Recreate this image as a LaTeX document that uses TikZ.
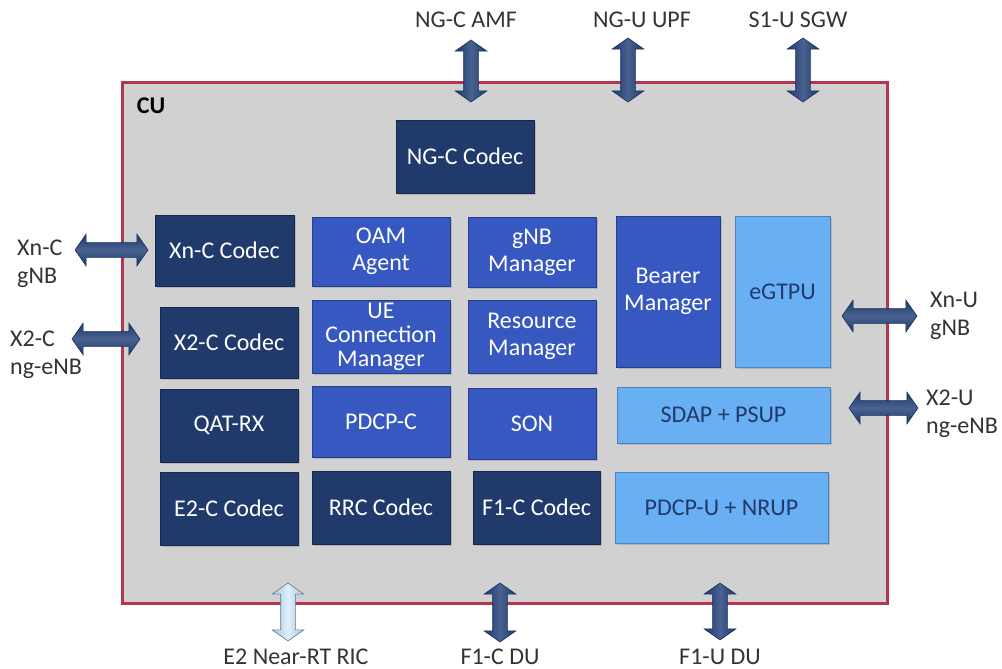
\documentclass[tikz,border=0pt]{standalone}
\usepackage{fontspec}
\setmainfont{Carlito}
\usetikzlibrary{shapes.arrows,shadows}

\definecolor{cuframe}{HTML}{B5344F}
\definecolor{cugray}{HTML}{D1D1D1}
\definecolor{navy}{HTML}{213A6C}
\definecolor{midblue}{HTML}{3658C0}
\definecolor{lightblue}{HTML}{69AFF4}
\definecolor{arrowblue}{HTML}{1C3A72}
\definecolor{e2blue}{HTML}{9CC8EC}

\tikzset{
  blk/.style={draw=#1!70!black, fill=#1, line width=1pt, inner sep=0pt, align=center,
    text=white, font=\fontsize{24}{27}\selectfont,
    drop shadow={shadow xshift=2pt, shadow yshift=-2pt, opacity=.35}},
  codec/.style={blk=navy},
  mgr/.style={blk=midblue},
  upbox/.style={blk=lightblue, draw=lightblue!60!navy, text=navy},
  dblarrow/.style={double arrow, inner sep=7pt, minimum width=31pt,
    double arrow head extend=8.5pt, double arrow tip angle=110, draw=arrowblue!80!black, line width=.6pt},
  varrow/.style={dblarrow, shape border rotate=90, left color=arrowblue, right color=arrowblue,
    middle color=arrowblue!80!white},
  harrow/.style={dblarrow, top color=arrowblue, bottom color=arrowblue,
    middle color=arrowblue!80!white},
  ext/.style={font=\fontsize{24}{28}\selectfont, text=black!80, align=left, inner sep=0pt}
}

\begin{document}
\begin{tikzpicture}[x=1pt,y=-1pt]
  \useasboundingbox (0,0) rectangle (1002,669);

  % CU frame
  \node[draw=cuframe, line width=3pt, fill=cugray, minimum width=765pt, minimum height=520pt,
    inner sep=0pt] (cu) at (504.5,343) {};
  \node[font=\bfseries\fontsize{24}{24}\selectfont, inner sep=0pt] (culabel) at (151,106) {CU};

  % control plane blocks
  \node[codec, minimum width=138pt, minimum height=73pt] (ngc) at (465,156.5) {NG-C Codec};
  \node[codec, minimum width=139pt, minimum height=71pt] (xnc) at (224.5,250.5) {Xn-C Codec};
  \node[mgr, minimum width=138pt, minimum height=69pt] (oam) at (381,251.5) {OAM\\Agent};
  \node[mgr, minimum width=128pt, minimum height=70pt] (gnbm) at (532,252) {gNB\\Manager};
  \node[mgr, minimum width=104pt, minimum height=151pt] (bearer) at (668,291.5) {Bearer\\Manager};
  \node[codec, minimum width=138pt, minimum height=71pt] (x2c) at (229,342.5) {X2-C Codec};
  \node[mgr, minimum width=138pt, minimum height=73pt, font=\fontsize{24}{24}\selectfont] (uecm) at (381,336.5) {UE\\Connection\\Manager};
  \node[mgr, minimum width=128pt, minimum height=73pt] (resm) at (532,336.5) {Resource\\Manager};
  \node[codec, minimum width=138pt, minimum height=73pt] (qat) at (229,425.5) {QAT-RX};
  \node[mgr, minimum width=138pt, minimum height=71pt] (pdcpc) at (381,421.5) {PDCP-C};
  \node[mgr, minimum width=128pt, minimum height=71pt] (son) at (532,423.5) {SON};
  \node[codec, minimum width=138pt, minimum height=73pt] (e2c) at (229,508.5) {E2-C Codec};
  \node[codec, minimum width=138pt, minimum height=73pt] (rrc) at (381,507.5) {RRC Codec};
  \node[codec, minimum width=127pt, minimum height=73pt] (f1c) at (536.5,507.5) {F1-C Codec};

  % user plane blocks
  \node[upbox, minimum width=95pt, minimum height=151pt] (egtpu) at (782.5,291.5) {eGTPU};
  \node[upbox, minimum width=213pt, minimum height=56pt] (sdap) at (723.5,415) {SDAP + PSUP};
  \node[upbox, minimum width=213pt, minimum height=71pt] (pdcpu) at (721.5,507.5) {PDCP-U + NRUP};

  % interfaces
  \node[varrow, minimum height=62pt] (amfarr) at (471,71) {};
  \node[varrow, minimum height=64pt] (upfarr) at (628,70) {};
  \node[varrow, minimum height=64pt] (sgwarr) at (803,70) {};
  \node[harrow, minimum height=73pt] (xncarr) at (111.5,250) {};
  \node[harrow, minimum height=68pt] (x2carr) at (106,339) {};
  \node[harrow, minimum height=75pt] (xnuarr) at (879.5,316) {};
  \node[harrow, minimum height=69pt] (x2uarr) at (883.5,408) {};
  \node[varrow, minimum height=58pt, left color=e2blue, right color=e2blue,
    middle color=e2blue!30!white, draw=e2blue!60!black] (e2arr) at (288,612) {};
  \node[varrow, minimum height=59pt] (f1carr) at (500,612.5) {};
  \node[varrow, minimum height=57pt] (f1uarr) at (720,611.5) {};

  \node[ext] (amf) at (466,20) {NG-C AMF};
  \node[ext] (upf) at (642,20) {NG-U UPF};
  \node[ext] (sgw) at (798,20) {S1-U SGW};
  \node[ext, anchor=west] (xngnb) at (17,264) {Xn-C\\gNB};
  \node[ext, anchor=west] (x2enb) at (10,355) {X2-C\\ng-eNB};
  \node[ext, anchor=west] (xnugnb) at (930,316) {Xn-U\\gNB};
  \node[ext, anchor=west] (x2uenb) at (926,414) {X2-U\\ng-eNB};
  \node[ext] (ric) at (296,657) {E2 Near-RT RIC};
  \node[ext] (f1cdu) at (500,657) {F1-C DU};
  \node[ext] (f1udu) at (720,657) {F1-U DU};
\end{tikzpicture}
\end{document}
